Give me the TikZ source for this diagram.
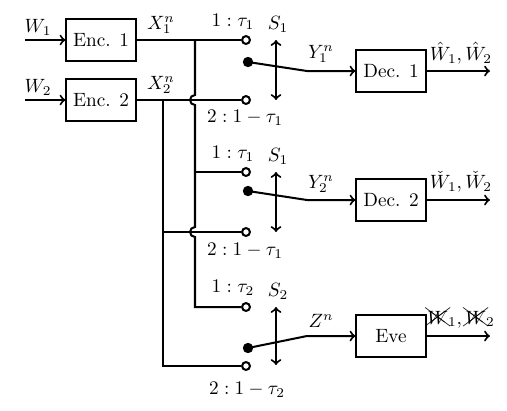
\documentclass[tikz,border=0pt]{standalone}
\usepackage{amsmath,amssymb}
\usepackage{cancel}
\begin{document}
\begin{tikzpicture}[x=0.52pt,y=-0.52pt,line width=1.05pt,
  blk/.style={draw,rectangle,minimum width=35.9pt,minimum height=21.8pt,inner sep=0pt},
  ocirc/.style={draw,circle,fill=white,inner sep=0pt,minimum size=4.1pt},
  fdot/.style={circle,fill=black,inner sep=0pt,minimum size=5.4pt},
  lbl/.style={inner sep=1pt},
  >=to]
\useasboundingbox (0,0) rectangle (507,410);
% encoders
\coordinate (w1s) at (25,40);
\coordinate (w2s) at (25,100);
\node[blk] (enc1) at (101,40) {Enc. 1};
\node[blk] (enc2) at (101,100) {Enc. 2};
\node[lbl] (w1) at (38,27) {$W_1$};
\node[lbl] (w2) at (38,87) {$W_2$};
\node[lbl] (x1) at (161,25) {$X_1^n$};
\node[lbl] (x2) at (161,85) {$X_2^n$};
\draw[->] (w1s) -- (enc1.west);
\draw[->] (w2s) -- (enc2.west);
% switch contacts
\node[ocirc] (o1) at (246,40) {};
\node[ocirc] (o2) at (246,100) {};
\node[ocirc] (o3) at (246,172) {};
\node[ocirc] (o4) at (246,232) {};
\node[ocirc] (o5) at (246,307) {};
\node[ocirc] (o6) at (246,366) {};
\node[fdot] (d1) at (248,62) {};
\node[fdot] (d2) at (248,191) {};
\node[fdot] (d3) at (248,348) {};
% buses
\coordinate (j1) at (195,40);
\coordinate (j2) at (163,100);
\coordinate (k3) at (195,172);
\coordinate (k4) at (163,232);
\draw (enc1.east) -- (o1.west);
\draw (enc2.east) -- (o2.west);
\draw (j1) -- (195,95) arc[start angle=90,end angle=270,radius=2.6pt]
  -- (195,227) arc[start angle=90,end angle=270,radius=2.6pt]
  -- (195,307) -- (o5.west);
\draw (k3) -- (o3.west);
\draw (j2) -- (163,366) -- (o6.west);
\draw (k4) -- (o4.west);
% decoders
\node[blk] (dec1) at (391,71) {Dec. 1};
\node[blk] (dec2) at (391,200) {Dec. 2};
\node[blk] (eve) at (391,336) {Eve};
\coordinate (b1) at (307,71);
\coordinate (b2) at (307,200);
\coordinate (b3) at (307,336);
\draw[->] (d1.center) -- (b1) -- (dec1.west);
\draw[->] (d2.center) -- (b2) -- (dec2.west);
\draw[->] (d3.center) -- (b3) -- (eve.west);
\coordinate (e1) at (490,71);
\coordinate (e2) at (490,200);
\coordinate (e3) at (490,336);
\draw[->] (dec1.east) -- (e1);
\draw[->] (dec2.east) -- (e2);
\draw[->] (eve.east) -- (e3);
% selector arrows
\coordinate (s1a) at (276,40); \coordinate (s1b) at (276,100);
\coordinate (s2a) at (276,172); \coordinate (s2b) at (276,232);
\coordinate (s3a) at (276,307); \coordinate (s3b) at (276,365);
\draw[<->] (s1a) -- (s1b);
\draw[<->] (s2a) -- (s2b);
\draw[<->] (s3a) -- (s3b);
% labels
\node[lbl] (t1) at (233,22) {$1:\tau_1$};
\node[lbl] (t2) at (245,118) {$2:1-\tau_1$};
\node[lbl] (t3) at (233,154) {$1:\tau_1$};
\node[lbl] (t4) at (245,251) {$2:1-\tau_1$};
\node[lbl] (t5) at (233,288) {$1:\tau_2$};
\node[lbl] (t6) at (247,390) {$2:1-\tau_2$};
\node[lbl] (sw1) at (278,24) {$S_1$};
\node[lbl] (sw2) at (278,156) {$S_1$};
\node[lbl] (sw3) at (278,291) {$S_2$};
\node[lbl] (y1) at (321,54) {$Y_1^n$};
\node[lbl] (y2) at (321,184) {$Y_2^n$};
\node[lbl] (zn) at (321,321) {$Z^n$};
\node[lbl] (out1) at (461,53) {$\hat{W}_1,\hat{W}_2$};
\node[lbl] (out2) at (461,182) {$\check{W}_1,\check{W}_2$};
\node[lbl] (out3) at (461,318) {$\xcancel{W}_1,\xcancel{W}_2$};
\end{tikzpicture}
\end{document}
